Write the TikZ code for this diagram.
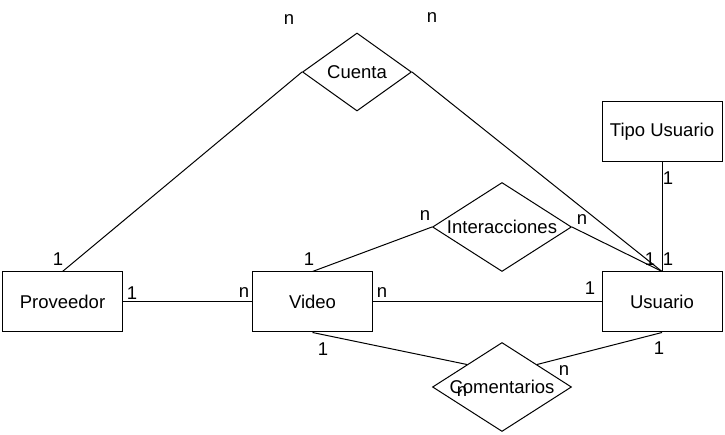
\documentclass[tikz,border=0pt]{standalone}
\usepackage{fontspec}
\setmainfont{Liberation Sans}
\usetikzlibrary{positioning, calc, shapes.geometric}
\tikzset{
  entity/.style={draw, line width=1pt, minimum width=120pt, minimum height=60pt, inner sep=0pt},
  relation/.style={draw, diamond, line width=1pt, inner sep=0pt},
  card/.style={inner sep=0pt}
}

\begin{document}
\begin{tikzpicture}[x=1pt, y=-1pt, font=\fontsize{18.5}{22}\selectfont]
  \useasboundingbox (0,0) rectangle (725,435);
  % Entities
  \node[entity] (prov) at (62.5,302) {Proveedor};
  \node[entity] (video) at (312.5,302) {Video};
  \node[entity] (usu) at (662,302) {Usuario};
  \node[entity] (tipo) at (662,132) {Tipo Usuario};

  % Relations
  \node[relation, minimum width=109pt, minimum height=78pt] (cuenta) at (357,72) {\makebox[0pt]{Cuenta}};
  \node[relation, minimum width=139pt, minimum height=89pt] (inter) at (502,227) {\makebox[0pt]{Interacciones}};
  \node[relation, minimum width=139pt, minimum height=89pt] (coment) at (502,387) {\makebox[0pt]{Comentarios}};
  \coordinate (comL) at ($(coment.west)!0.5!(coment.north)$);
  \coordinate (comR) at ($(coment.east)!0.5!(coment.north)$);

  % Lines
  \draw[line width=1pt] (prov.north) -- (cuenta.west);
  \draw[line width=1pt] (cuenta.east) -- (usu.north);
  \draw[line width=1pt] (video.north) -- (inter.west);
  \draw[line width=1pt] (inter.east) -- (usu.north);
  \draw[line width=1pt] (tipo.south) -- (usu.north);
  \draw[line width=1pt] (prov.east) -- (video.west);
  \draw[line width=1pt] (video.east) -- (usu.west);
  \draw[line width=1pt] (video.south) -- (comL);
  \draw[line width=1pt] (usu.south) -- (comR);

  % Cardinalities
  \node[card] (n1) at (289,20) {n};
  \node[card] (n2) at (432,18) {n};
  \node[card] (c1) at (58,259) {1};
  \node[card] (c2) at (132,293) {1};
  \node[card] (n3) at (244,293) {n};
  \node[card] (c3) at (309,259) {1};
  \node[card] (n4) at (425,216) {n};
  \node[card] (n5) at (382,293) {n};
  \node[card] (c4) at (590,288) {1};
  \node[card] (n6) at (582,220) {n};
  \node[card] (c5) at (650,259) {1};
  \node[card] (c6) at (668,178) {1};
  \node[card] (c7) at (668,259) {1};
  \node[card] (c8) at (323,349) {1};
  \node[card] (n7) at (462,392) {n};
  \node[card] (n8) at (564,371) {n};
  \node[card] (c9) at (659,348) {1};
\end{tikzpicture}
\end{document}
